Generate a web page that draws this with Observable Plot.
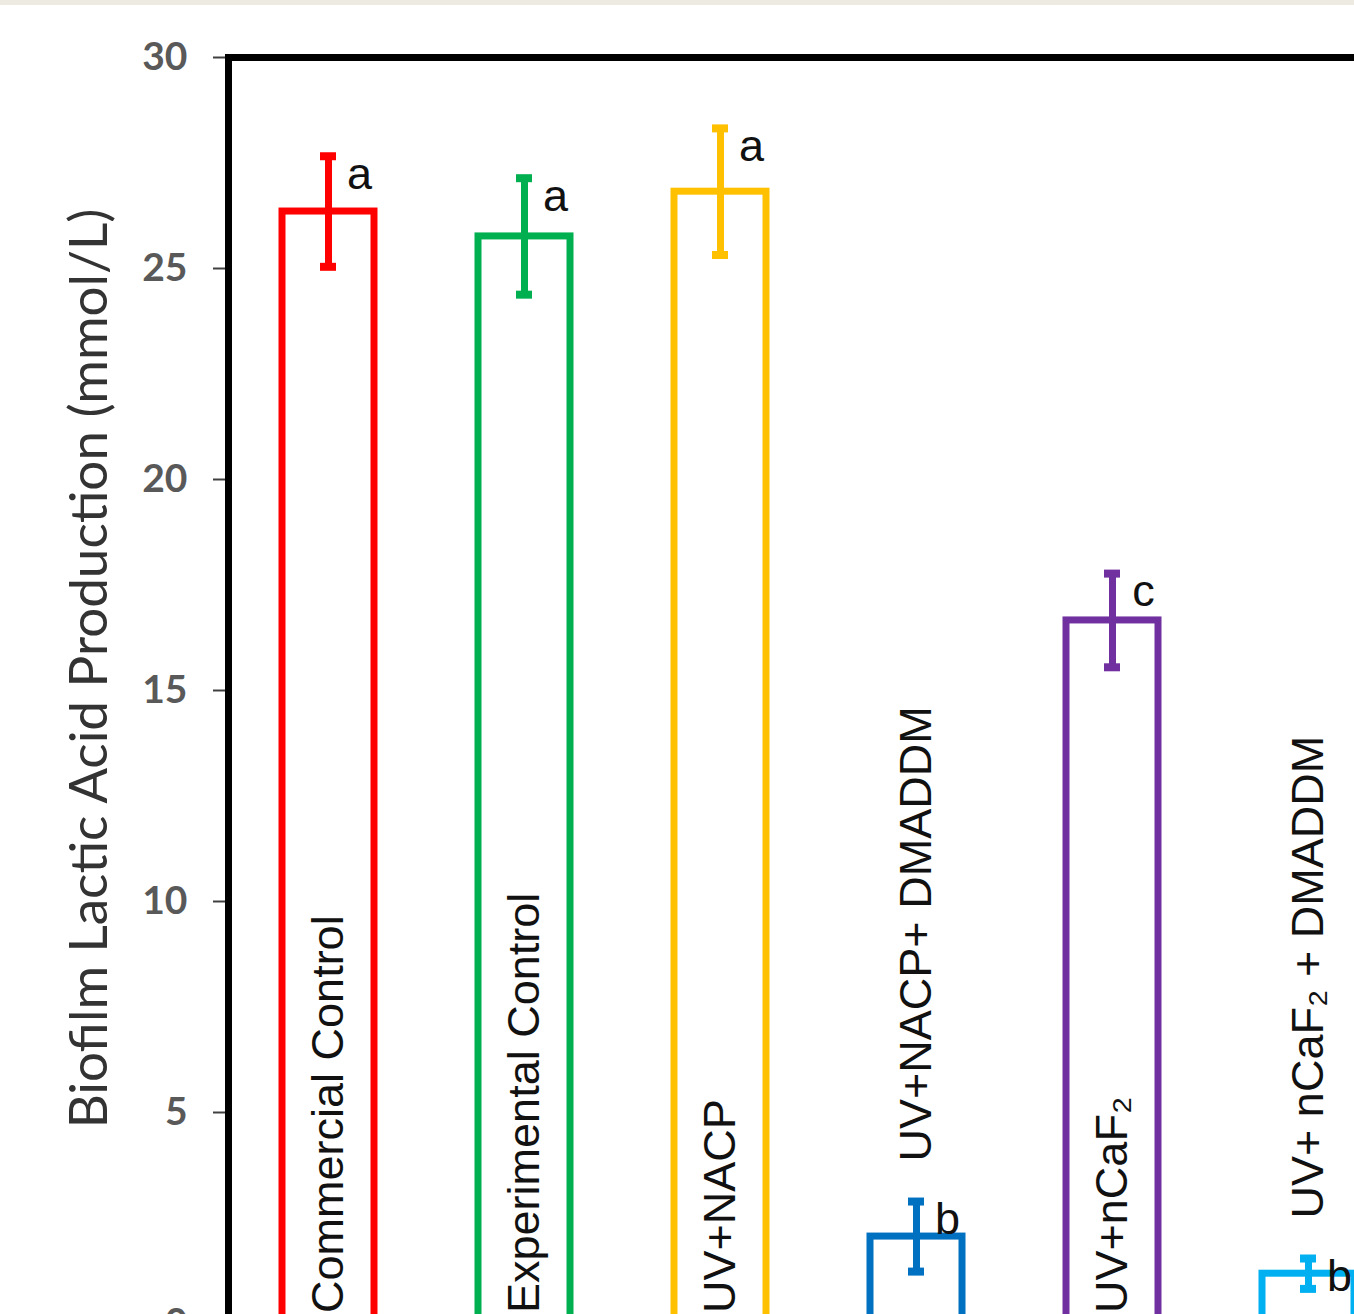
<!DOCTYPE html>
<html>
<head>
<meta charset="utf-8">
<script src="https://cdn.jsdelivr.net/npm/d3@7"></script>
<script src="https://cdn.jsdelivr.net/npm/@observablehq/plot@0.6"></script>
<style>
  html, body { margin: 0; padding: 0; background: #ffffff; overflow: hidden; width: 1354px; height: 1314px; }
  #strip { position: absolute; left: 0; top: 0; width: 100%; height: 5px; background: #EDEAE1; z-index: 2; }
  #chart { position: absolute; left: 0; top: 0; }
  #chart svg { max-width: none !important; }
</style>
</head>
<body>
<div id="chart"></div>
<div id="strip"></div>
<script>
// ---- data ----
const categories = ["Commercial Control", "Experimental Control", "UV+NACP", "UV+NACP+ DMADDM", "UV+nCaF2", "UV+ nCaF2 + DMADDM"];
const labels = ["Commercial Control", "Experimental Control", "UV+NACP", "UV+NACP+ DMADDM", "UV+nCaF\u2082", "UV+ nCaF\u2082 + DMADDM"];
const means = [26.35, 25.76, 26.82, 2.06, 16.66, 1.18];
const errors = [1.31, 1.38, 1.50, 0.83, 1.11, 0.36];
const letters = ["a", "a", "a", "b", "c", "b"];
const yTicks = [0, 5, 10, 15, 20, 25, 30];
const yTitle = "Biofilm Lactic Acid Production (mmol/L)";

// ---- styles ----
const palette = ["#FF0000", "#00B050", "#FFC000", "#0070C0", "#7030A0", "#00B0F0"];
const sans = "'Liberation Sans', Arial, sans-serif";
const calibriLike = "Lato, 'Open Sans', sans-serif";

const data = categories.map((c, i) => ({cat: c, label: labels[i], mean: means[i], err: errors[i], letter: letters[i]}));
const hi = d => d.mean + d.err;
const lo = d => d.mean - d.err;

const chart = Plot.plot({
  width: 1438,
  height: 1353,
  marginTop: 57,
  marginLeft: 228,
  marginRight: 30,
  marginBottom: 30,
  style: {background: "transparent", maxWidth: "none", overflow: "visible"},
  x: {domain: categories, paddingInner: 0.53, paddingOuter: 0.265, axis: null},
  y: {domain: [0, 30]},
  color: {domain: categories, range: palette},
  marks: [
    Plot.barY(data, {x: "cat", y: "mean", stroke: "cat", fill: "white", strokeWidth: 7, strokeLinejoin: "miter"}),
    Plot.ruleX(data, {x: "cat", y1: lo, y2: hi, stroke: "cat", strokeWidth: 7}),
    Plot.tickY(data, {x: "cat", y: hi, stroke: "cat", strokeWidth: 8, inset: 38}),
    Plot.tickY(data, {x: "cat", y: lo, stroke: "cat", strokeWidth: 8, inset: 38}),
    Plot.text(data, {x: "cat", y: hi, text: "letter", dx: 31, dy: 18, fontSize: 45, fontFamily: sans, fill: "#111"}),
    Plot.text(data, {x: "cat", y: d => (hi(d) > 10 ? 0.25 : hi(d) + 0.95), text: "label", rotate: -90, textAnchor: "start", lineAnchor: "middle", fontSize: 45, fontFamily: sans, fill: "#111"}),
    Plot.axisY({ticks: yTicks, tickSize: 15, tickPadding: 26, fontSize: 39, fontWeight: "bold", fontFamily: calibriLike, color: "#595959", stroke: "#404040", strokeWidth: 2, label: null}),
    Plot.text([yTitle], {frameAnchor: "left", text: d => d, rotate: -90, textAnchor: "middle", lineAnchor: "middle", dx: -138, dy: -22, fontSize: 53, fontFamily: calibriLike, fill: "#333"}),
    Plot.frame({stroke: "black", strokeWidth: 7})
  ]
});
chart.style.maxWidth = "none";
document.getElementById("chart").appendChild(chart);
</script>
</body>
</html>
